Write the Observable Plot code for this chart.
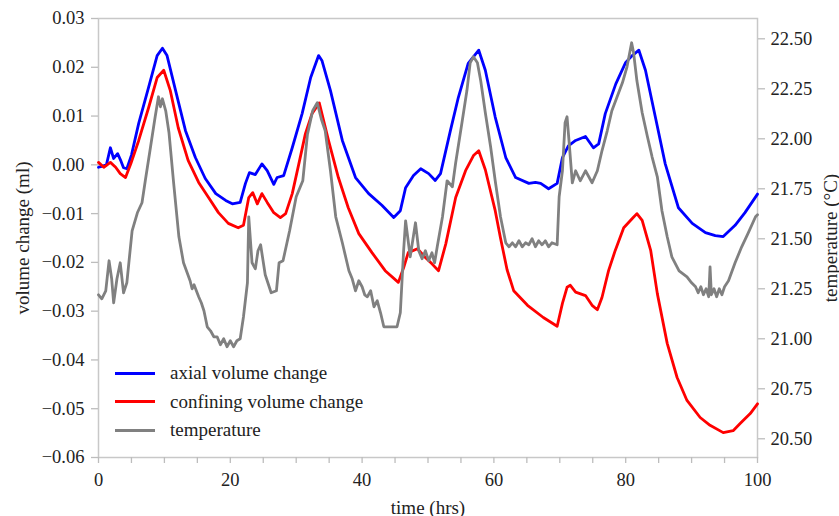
<!DOCTYPE html>
<html>
<head>
<meta charset="utf-8">
<script src="https://cdn.jsdelivr.net/npm/d3@7"></script>
<script src="https://cdn.jsdelivr.net/npm/@observablehq/plot@0.6"></script>
<style>
  body { margin: 0; background: #fff; font-family: "Liberation Serif", "Times New Roman", serif; }
  #wrap { position: relative; width: 839px; height: 516px; font-family: "Liberation Serif", "Times New Roman", serif; }
  .legend { position: absolute; left: 115px; top: 359px; font-size: 19px; color: #222; font-family: "Liberation Serif", "Times New Roman", serif; }
  .legend .row { display: flex; align-items: center; height: 28.5px; }
  .legend .sw { width: 40px; height: 3px; margin-right: 15px; }
</style>
</head>
<body>
<div id="wrap"></div>
<script>
// ---- data: [time (hrs), volume change (ml)] ----
const axial = [[0,-0.0005],[0.5,-0.0003],[1.2,0.0000],[1.8,0.0035],[2.3,0.0013],[2.9,0.0023],[3.4,0.0008],[3.8,-0.0006],[4.3,-0.0008],[5.0,0.0020],[6.1,0.0085],[7.6,0.0159],[8.9,0.0224],[9.7,0.0239],[10.4,0.0224],[11.7,0.0152],[13.2,0.0070],[14.7,0.0015],[16.2,-0.0028],[17.8,-0.0059],[19.3,-0.0073],[20.3,-0.0080],[21.5,-0.0077],[22.3,-0.0038],[22.9,-0.0016],[23.8,-0.0020],[24.8,0.0002],[25.6,-0.0012],[26.6,-0.0040],[27.1,-0.0026],[28.1,-0.0022],[29.4,0.0035],[30.9,0.0105],[32.2,0.0179],[33.4,0.0224],[33.9,0.0214],[35.2,0.0152],[37.0,0.0050],[39.0,-0.0026],[41.0,-0.0059],[43.0,-0.0083],[44.8,-0.0108],[45.8,-0.0094],[46.6,-0.0047],[47.8,-0.0022],[48.9,-0.0008],[50.1,-0.0018],[51.1,-0.0032],[51.9,-0.0018],[53.4,0.0070],[54.6,0.0138],[56.1,0.0208],[57.7,0.0235],[58.7,0.0194],[60.2,0.0098],[61.8,0.0015],[63.3,-0.0026],[65.3,-0.0038],[66.3,-0.0036],[67.1,-0.0038],[68.3,-0.0049],[69.6,-0.0038],[70.4,0.0015],[71.3,0.0039],[72.4,0.0050],[73.9,0.0058],[75.1,0.0035],[75.9,0.0043],[76.9,0.0105],[78.5,0.0166],[80.0,0.0210],[81.0,0.0224],[82.0,0.0235],[83.0,0.0194],[84.5,0.0098],[86.0,0.0002],[88.0,-0.0088],[90.1,-0.0120],[92.1,-0.0139],[93.6,-0.0145],[94.8,-0.0147],[96.6,-0.0124],[98.1,-0.0098],[100,-0.0060]];

const confining = [[0,0.0005],[0.8,-0.0005],[1.8,0.0005],[2.6,-0.0005],[3.3,-0.0018],[4.1,-0.0026],[4.9,0.0002],[6.1,0.0050],[7.6,0.0117],[8.9,0.0179],[9.9,0.0194],[10.9,0.0152],[12.1,0.0076],[13.6,0.0009],[15.2,-0.0036],[16.7,-0.0067],[18.2,-0.0098],[19.7,-0.0120],[21.2,-0.0129],[22.0,-0.0124],[22.8,-0.0067],[23.4,-0.0057],[24.1,-0.0080],[24.8,-0.0059],[25.6,-0.0077],[26.6,-0.0098],[27.6,-0.0108],[28.4,-0.0100],[29.4,-0.0059],[30.4,0.0002],[31.4,0.0064],[32.4,0.0105],[33.5,0.0127],[34.9,0.0050],[36.4,-0.0026],[37.9,-0.0088],[39.5,-0.0141],[41.5,-0.0180],[43.5,-0.0217],[45.5,-0.0241],[46.3,-0.0211],[47.0,-0.0180],[48.4,-0.0172],[49.6,-0.0190],[50.6,-0.0203],[51.6,-0.0217],[52.7,-0.0162],[54.2,-0.0067],[55.7,-0.0012],[56.9,0.0019],[57.7,0.0029],[58.7,-0.0010],[60.2,-0.0094],[61.0,-0.0150],[62.0,-0.0215],[63.0,-0.0258],[65.1,-0.0288],[67.5,-0.0313],[69.6,-0.0331],[70.4,-0.0284],[71.1,-0.0251],[71.6,-0.0247],[72.4,-0.0261],[73.9,-0.0268],[74.9,-0.0288],[75.7,-0.0297],[76.4,-0.0272],[77.4,-0.0217],[78.4,-0.0176],[79.7,-0.0129],[81.0,-0.0110],[81.7,-0.0100],[82.5,-0.0114],[83.8,-0.0176],[84.8,-0.0264],[86.3,-0.0366],[87.8,-0.0436],[89.3,-0.0483],[91.3,-0.0518],[92.8,-0.0534],[94.8,-0.0549],[96.3,-0.0545],[97.4,-0.0530],[98.9,-0.0510],[100,-0.0490]];

// ---- data: [time (hrs), temperature (°C)] ----
const temperature = [[0,21.22],[0.5,21.20],[1.1,21.24],[1.6,21.39],[2.0,21.30],[2.3,21.18],[2.8,21.30],[3.3,21.38],[3.8,21.23],[4.3,21.28],[5.1,21.54],[5.9,21.63],[6.6,21.68],[7.1,21.79],[7.9,21.96],[8.6,22.11],[9.1,22.21],[9.4,22.16],[9.7,22.20],[10.2,22.14],[10.7,22.03],[11.4,21.78],[12.2,21.51],[12.9,21.38],[13.9,21.29],[14.2,21.25],[14.5,21.27],[15.2,21.21],[15.6,21.18],[16.0,21.14],[16.5,21.06],[17.0,21.04],[17.5,21.01],[18.0,21.01],[18.5,20.97],[19.0,21.00],[19.5,20.96],[20.0,20.99],[20.5,20.96],[21.0,20.99],[21.5,21.00],[22.0,21.11],[22.6,21.28],[22.8,21.61],[23.3,21.38],[23.8,21.35],[24.2,21.44],[24.6,21.47],[25.3,21.32],[26.2,21.23],[27.0,21.24],[27.4,21.38],[28.0,21.39],[29.0,21.54],[30.0,21.71],[31.0,21.79],[31.7,22.02],[32.5,22.14],[33.2,22.18],[33.8,22.10],[34.4,22.04],[35.2,21.84],[36.0,21.61],[37.0,21.48],[38.0,21.34],[38.5,21.30],[39.0,21.24],[39.5,21.29],[40.0,21.26],[40.4,21.22],[40.8,21.21],[41.3,21.24],[41.8,21.16],[42.3,21.19],[42.8,21.13],[43.3,21.06],[44.3,21.06],[45.3,21.06],[45.8,21.13],[46.3,21.44],[46.6,21.59],[47.3,21.41],[48.1,21.58],[48.6,21.44],[49.1,21.40],[49.6,21.44],[50.1,21.39],[50.6,21.43],[51.0,21.38],[51.4,21.46],[52.2,21.61],[52.9,21.79],[53.7,21.76],[54.2,21.88],[55.2,22.09],[55.9,22.24],[56.4,22.38],[56.9,22.41],[57.5,22.38],[58.0,22.29],[58.7,22.13],[59.5,21.96],[60.2,21.79],[61.0,21.61],[61.8,21.48],[62.3,21.46],[62.8,21.48],[63.3,21.46],[63.8,21.49],[64.3,21.46],[64.8,21.48],[65.3,21.47],[65.8,21.50],[66.3,21.46],[66.8,21.49],[67.3,21.47],[67.8,21.49],[68.3,21.46],[68.8,21.48],[69.6,21.47],[69.9,21.71],[70.4,21.84],[70.8,22.08],[71.1,22.11],[71.4,21.99],[71.9,21.78],[72.4,21.84],[73.1,21.79],[73.9,21.84],[74.9,21.78],[75.7,21.84],[76.4,21.94],[77.2,22.04],[77.9,22.14],[78.7,22.21],[79.5,22.28],[80.2,22.36],[80.9,22.48],[81.2,22.43],[81.7,22.29],[82.5,22.13],[83.3,22.01],[84.0,21.91],[84.8,21.81],[85.5,21.64],[86.3,21.51],[87.0,21.41],[88.1,21.34],[89.3,21.31],[90.0,21.28],[90.6,21.26],[91.0,21.23],[91.4,21.26],[91.8,21.22],[92.2,21.25],[92.6,21.21],[92.8,21.36],[93.0,21.22],[93.4,21.25],[93.8,21.21],[94.2,21.25],[94.6,21.22],[95.0,21.26],[95.6,21.29],[96.6,21.38],[97.6,21.46],[98.6,21.53],[99.7,21.61],[100,21.62]];

const xTicks = [0,5,10,15,20,25,30,35,40,45,50,55,60,65,70,75,80,85,90,95,100];
const volTicks = [-0.06,-0.05,-0.04,-0.03,-0.02,-0.01,0,0.01,0.02,0.03];
const tempTicks = [20.50,20.75,21.00,21.25,21.50,21.75,22.00,22.25,22.50];
const seriesNames = ["axial volume change","confining volume change","temperature"];
const seriesColors = ["#0000ff","#ff0000","#808080"];

// map temperature onto the volume scale (secondary axis)
const tA = 0.02584, tB = 0.0410;
const toVol = T => tA + (T - 22.5) * tB;
const toTemp = v => 22.5 + (v - tA) / tB;

const minus = s => s.replace("-", "\u2212");
const fmtVol = d => Math.abs(d) < 1e-9 ? "0.00" : minus(d.toFixed(2));
const FONT = '"Liberation Serif", "Times New Roman", serif';

const chart = Plot.plot({
  width: 839,
  height: 516,
  marginLeft: 98,
  marginRight: 82,
  marginTop: 18,
  marginBottom: 59,
  style: {fontFamily: FONT, fontSize: "18.5px", color: "#222", background: "#fff", overflow: "visible"},
  x: {domain: [0, 100]},
  y: {domain: [-0.06, 0.03]},
  marks: [
    Plot.frame({stroke: "#c8c8c8", strokeWidth: 1.5}),
    Plot.axisX({ticks: xTicks, tickFormat: d => d % 20 === 0 ? String(d) : "", tickSize: 6, tickPadding: 9, stroke: "#bdbdbd", strokeWidth: 1.3, fill: "#222", label: null, fontFamily: FONT}),
    Plot.axisY({ticks: volTicks, tickFormat: fmtVol, tickSize: 7, tickPadding: 7, stroke: "#bdbdbd", strokeWidth: 1.3, fill: "#222", label: null, fontFamily: FONT}),
    Plot.axisY(tempTicks.map(toVol), {anchor: "right", tickFormat: d => toTemp(d).toFixed(2), tickSize: 7, tickPadding: 6, stroke: "#bdbdbd", strokeWidth: 1.3, fill: "#222", label: null, fontFamily: FONT}),
    Plot.line(axial, {x: d => d[0], y: d => d[1], stroke: seriesColors[0], strokeWidth: 2.8}),
    Plot.line(confining, {x: d => d[0], y: d => d[1], stroke: seriesColors[1], strokeWidth: 2.8}),
    Plot.line(temperature, {x: d => d[0], y: d => toVol(d[1]), stroke: seriesColors[2], strokeWidth: 2.8}),
    Plot.text(["volume change (ml)"], {frameAnchor: "left", dx: -76, rotate: -90, lineAnchor: "middle", textAnchor: "middle", fill: "#222", fontSize: 19, fontFamily: FONT}),
    Plot.text(["temperature (\u00B0C)"], {frameAnchor: "right", dx: 73, rotate: -90, lineAnchor: "middle", textAnchor: "middle", fill: "#222", fontSize: 19, fontFamily: FONT}),
    Plot.text(["time (hrs)"], {frameAnchor: "bottom", dy: 50, lineAnchor: "middle", textAnchor: "middle", fill: "#222", fontSize: 19, fontFamily: FONT})
  ]
});

const wrap = document.getElementById("wrap");
wrap.appendChild(chart);

const legend = document.createElement("div");
legend.className = "legend";
seriesNames.forEach((name, i) => {
  const row = document.createElement("div");
  row.className = "row";
  const sw = document.createElement("div");
  sw.className = "sw";
  sw.style.background = seriesColors[i];
  const label = document.createElement("span");
  label.textContent = name;
  row.appendChild(sw);
  row.appendChild(label);
  legend.appendChild(row);
});
wrap.appendChild(legend);
</script>
</body>
</html>
